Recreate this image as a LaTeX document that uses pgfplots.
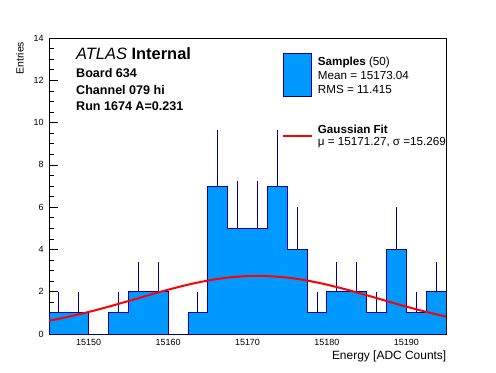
\documentclass[border=0pt]{standalone}
\usepackage{fontspec}
\setmainfont{Liberation Sans}
\usepackage{pgfplots}
\pgfplotsset{compat=1.18}
\definecolor{rootfill}{RGB}{0,153,255}
\definecolor{rootline}{RGB}{0,0,153}

\begin{document}
\begin{tikzpicture}[x=1bp,y=1bp]
\useasboundingbox (0,0) rectangle (496,372);
\begin{axis}[
  at={(49bp,38bp)}, anchor=south west,
  scale only axis, width=397bp, height=296bp,
  xmin=15145, xmax=15195, ymin=0, ymax=14,
  xtick={15150,15160,...,15190}, minor x tick num=4,
  ytick={0,2,...,14}, minor y tick num=3,
  scaled x ticks=false, scaled y ticks=false,
  tick pos=left, tick align=inside,
  major tick length=9bp, minor tick length=5bp,
  axis line style={line width=0.9bp},
  every tick/.style={black, line width=0.7bp},
  /pgf/number format/assume math mode=true,
  /pgf/number format/fixed,
  /pgf/number format/1000 sep={},
  every tick label/.append style={font=\fontsize{9}{10}\selectfont},
  every x tick label/.append style={yshift=-2bp},
  every y tick label/.append style={xshift=-1.8bp},
]
% histogram, bins of width 2.5
\addplot[const plot mark left, fill=rootfill, draw=rootline, line width=0.9bp] coordinates {
(15145,1) (15147.5,1) (15150,0) (15152.5,1) (15155,2) (15157.5,2)
(15160,0) (15162.5,1) (15165,7) (15167.5,5) (15170,5) (15172.5,7)
(15175,4) (15177.5,1) (15180,2) (15182.5,2) (15185,1) (15187.5,4)
(15190,1) (15192.5,2) (15195,2)
} \closedcycle;
% error bars (upper half, lower half hidden by fill)
\addplot[draw=none, mark=none, forget plot,
  error bars/.cd, y dir=plus, y explicit, error mark=none,
  error bar style={rootline, line width=0.9bp}]
  table[x=x, y=y, y error=e] {
x y e
15146.25 1 1
15148.75 1 1
15153.75 1 1
15156.25 2 1.414
15158.75 2 1.414
15163.75 1 1
15166.25 7 2.646
15168.75 5 2.236
15171.25 5 2.236
15173.75 7 2.646
15176.25 4 2
15178.75 1 1
15181.25 2 1.414
15183.75 2 1.414
15186.25 1 1
15188.75 4 2
15191.25 1 1
15193.75 2 1.414
};
% gaussian fit curve
\addplot[red, line width=2bp, smooth, mark=none] coordinates {
(15145,0.626) (15147.5,0.819) (15150,1.042) (15152.5,1.292) (15155,1.559)
(15157.5,1.831) (15160,2.094) (15162.5,2.332) (15165,2.528) (15167.5,2.668)
(15170,2.741) (15171.27,2.750) (15172.5,2.741) (15175,2.669) (15177.5,2.530)
(15180,2.335) (15182.5,2.098) (15185,1.836) (15187.5,1.563) (15190,1.296)
(15192.5,1.046) (15195,0.822)
};
\end{axis}
% axis titles
\node[rotate=90, anchor=east, inner sep=0pt, font=\fontsize{10.5}{12}\selectfont] at (20,330.3) {Entries};
\node[anchor=base east, inner sep=0pt, font=\fontsize{12}{14}\selectfont] at (446.5,13) {Energy [ADC Counts]};
% ATLAS label block
\node[anchor=base west, inner sep=0pt, font=\fontsize{16.5}{18}\selectfont] at (76,313) {\textit{ATLAS} \textbf{Internal}};
\node[anchor=base west, inner sep=0pt, font=\fontsize{12.6}{14}\selectfont\bfseries] at (76,294.3) {Board 634};
\node[anchor=base west, inner sep=0pt, font=\fontsize{12.6}{14}\selectfont\bfseries] at (76,277.7) {Channel 079 hi};
\node[anchor=base west, inner sep=0pt, font=\fontsize{12.6}{14}\selectfont\bfseries] at (76,261.3) {Run 1674 A=0.231};
% legend
\draw[fill=rootfill, draw=rootline, line width=0.9bp] (283.3,275.3) rectangle (311.7,318.7);
\node[anchor=base west, inner sep=0pt, font=\fontsize{11.7}{13}\selectfont] at (317.7,307) {\textbf{Samples} (50)};
\node[anchor=base west, inner sep=0pt, font=\fontsize{11.7}{13}\selectfont] at (317.7,293) {Mean = 15173.04};
\node[anchor=base west, inner sep=0pt, font=\fontsize{11.7}{13}\selectfont] at (317.7,278.7) {RMS = 11.415};
\draw[red, line width=2bp] (283.3,236) -- (311.7,236);
\node[anchor=base west, inner sep=0pt, font=\fontsize{11.7}{13}\selectfont] at (317.7,238.7) {\textbf{Gaussian Fit}};
\node[anchor=base west, inner sep=0pt, font=\fontsize{11.7}{13}\selectfont] at (317.7,227) {μ = 15171.27, σ =15.269};
\end{tikzpicture}
\end{document}
